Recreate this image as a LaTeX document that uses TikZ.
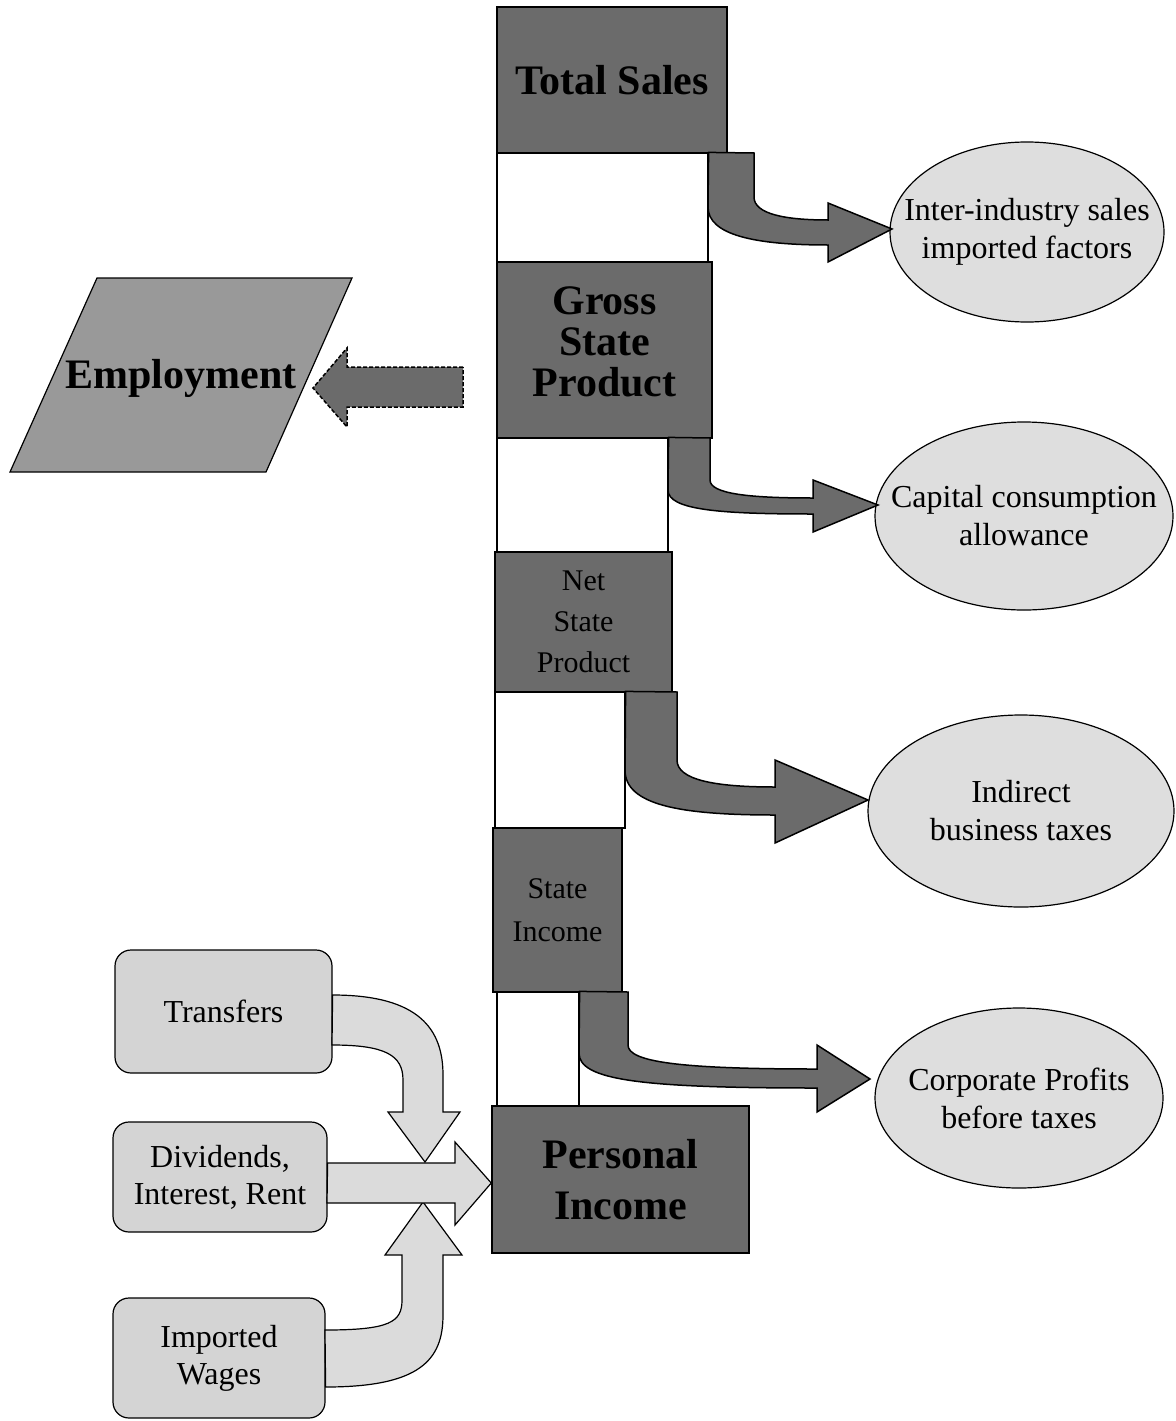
\documentclass[tikz,border=0pt]{standalone}
\usepackage{fontspec}
\setmainfont{Liberation Serif}
\usetikzlibrary{shapes.geometric}

\definecolor{darkfill}{gray}{0.42}
\definecolor{ovalfill}{gray}{0.87}
\definecolor{srcfill}{gray}{0.83}
\definecolor{empfill}{gray}{0.6}
\definecolor{flowfill}{gray}{0.86}

\newcommand{\bigtitle}{\fontsize{42}{42}\selectfont\bfseries}
\newcommand{\smalltitle}{\fontsize{30}{41}\selectfont}

\begin{document}
\begin{tikzpicture}[x=1pt, y=-1pt]
%
% Column of stages on the middle, leaks to the right,
% inflows from the left into Personal Income.
%
\tikzstyle{stage} = [rectangle, draw=black, line width=1.5pt, fill=darkfill, inner sep=0pt, align=center]
\tikzstyle{gap} = [rectangle, draw=black, line width=1.2pt, fill=white, inner sep=0pt]
\tikzstyle{leak} = [ellipse, draw=black, line width=1.2pt, fill=ovalfill, inner xsep=-45pt, inner ysep=0pt, align=center, font=\fontsize{32}{38}\selectfont]
\tikzstyle{source} = [rectangle, rounded corners=16pt, draw=black, line width=1.2pt, fill=srcfill, inner sep=0pt, align=center, font=\fontsize{32}{37}\selectfont]
\tikzstyle{outflow} = [draw=black, line width=1.5pt, fill=darkfill]
\tikzstyle{inflow} = [draw=black, line width=1.2pt, fill=flowfill]
\useasboundingbox (0,0) rectangle (1175,1421);
% White gaps between the stages
\node (gap1) [gap, minimum width=211pt, minimum height=109pt] at (602.5,207.5) {};
\node (gap2) [gap, minimum width=171pt, minimum height=114pt] at (582.5,495) {};
\node (gap3) [gap, minimum width=130pt, minimum height=136pt] at (560,760) {};
\node (gap4) [gap, minimum width=82pt, minimum height=114pt] at (538,1049) {};
% Stages
\node (sales) [stage, minimum width=230pt, minimum height=146pt, font=\bigtitle] at (612,80) {Total Sales};
\node (gsp) [stage, minimum width=215pt, minimum height=176pt, font=\bigtitle\fontsize{42}{41}\selectfont] at (604.5,350) {Gross\\State\\Product\\[-25pt]};
\node (nsp) [stage, minimum width=177pt, minimum height=140pt, font=\smalltitle] at (583.5,622) {Net\\State\\Product};
\node (sinc) [stage, minimum width=129pt, minimum height=164pt, font=\smalltitle\fontsize{30}{43}\selectfont] at (557.5,910) {State\\Income};
\node (pinc) [stage, minimum width=257pt, minimum height=147pt, font=\bigtitle\fontsize{42}{51}\selectfont] at (620.5,1179.5) {Personal\\Income};
% Leaks
\node (interind) [leak, minimum width=274pt, minimum height=180pt] at (1027,232) {Inter-industry sales\\imported factors};
\node (capcons) [leak, minimum width=298pt, minimum height=188pt] at (1024,516) {Capital consumption\\allowance};
\node (indtax) [leak, minimum width=306pt, minimum height=192pt] at (1021,811) {Indirect\\business taxes};
\node (corpprof) [leak, minimum width=288pt, minimum height=180pt] at (1019,1098) {Corporate Profits\\before taxes};
% Inflows
\node (transfers) [source, minimum width=217pt, minimum height=123pt] at (223.5,1011.5) {Transfers};
\node (divid) [source, minimum width=214pt, minimum height=110pt] at (220,1177) {Dividends,\\Interest, Rent};
\node (impwages) [source, minimum width=212pt, minimum height=120pt] at (219,1358) {Imported\\Wages};
% Employment
\draw [draw=black, line width=1.2pt, fill=empfill] (97,278) -- (352,278) -- (266,472) -- (10,472) -- cycle;
\node (employ) [font=\bigtitle] at (181,378) {Employment};
% Bent arrows out of the column (drawn by hand, no fancy shapes)
\draw [outflow] (gap1.north east) -- (754,153) -- (754,197) .. controls (754,214) and (785,220) .. (828,220) -- (828,203) -- (892,229) -- (828,262) -- (828,245) .. controls (755,245) and (708,235) .. (708,207) -- cycle;
\draw [outflow] (gap2.north east) -- (710,438) -- (710,480) .. controls (710,494) and (750,498) .. (813,498) -- (813,480) -- (878,505) -- (813,532) -- (813,514) .. controls (720,514) and (668,510) .. (668,490) -- cycle;
\draw [outflow] (gap3.north east) -- (677,692) -- (677,760) .. controls (677,780) and (715,787) .. (775,787) -- (775,760) -- (868,800) -- (775,843) -- (775,815) .. controls (680,815) and (625,805) .. (625,770) -- cycle;
\draw [outflow] (gap4.north east) -- (628,992) -- (628,1045) .. controls (628,1062) and (680,1069) .. (817,1069) -- (817,1045) -- (870,1079) -- (817,1112) -- (817,1088) .. controls (640,1088) and (579,1080) .. (579,1053) -- cycle;
% GSP -> Employment, dashed
\draw [outflow, dash pattern=on 4pt off 2pt] (463,367) -- (347,367) -- (347,348) -- (313,388) -- (347,427) -- (347,407) -- (463,407) -- cycle;
% Into Personal Income
\draw [inflow] (transfers.east |- 0,995) .. controls (420,995) and (443,1030) .. (443,1075) -- (443,1112) -- (460,1112) -- (425,1162) -- (388,1112) -- (403,1112) -- (403,1080) .. controls (403,1055) and (385,1045) .. (332,1045) -- cycle;
\draw [inflow] (impwages.east |- 0,1387) .. controls (420,1387) and (443,1360) .. (443,1315) -- (443,1255) -- (462,1255) -- (423,1202) -- (385,1255) -- (402,1255) -- (402,1300) .. controls (402,1322) and (390,1330) .. (325,1330) -- cycle;
\draw [inflow] (divid.east |- 0,1163) -- (455,1163) -- (455,1142) -- (pinc.west |- 0,1183) -- (455,1225) -- (455,1203) -- (327,1203) -- cycle;
\end{tikzpicture}
\end{document}
